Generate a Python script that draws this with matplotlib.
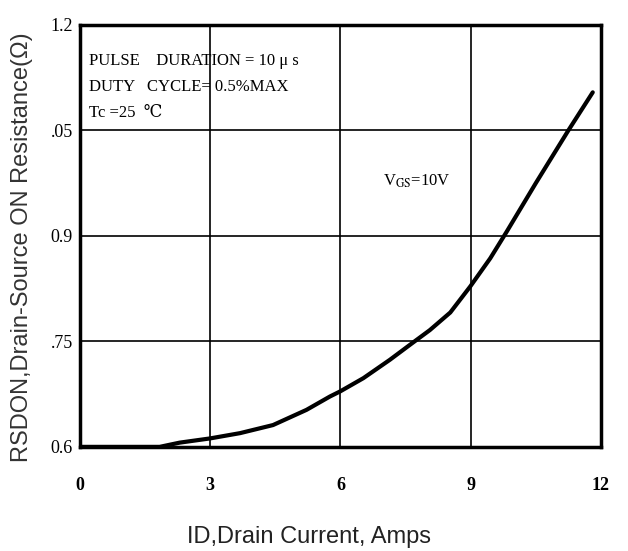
import matplotlib
matplotlib.use("Agg")
import matplotlib.pyplot as plt

# ID (A) vs RDS(on) (ohm)
id_amps = [0, 1, 1.84, 2.3, 3.0, 3.69, 4.45, 5.22, 5.76, 6.0, 6.53, 7.14, 7.6,
           8.06, 8.53, 8.99, 9.45, 9.83, 10.5, 11.25, 11.81]
rds_on = [0.6, 0.6, 0.6, 0.606, 0.612, 0.6195, 0.631, 0.6526, 0.6716, 0.679,
          0.6977, 0.7238, 0.745, 0.766, 0.791, 0.828, 0.868, 0.906, 0.975, 1.05, 1.104]

xticks = [0, 3, 6, 9, 12]
xticklabels = ["0", "3", "6", "9", "12"]
yticks = [0.6, 0.75, 0.9, 1.05, 1.2]
yticklabels = ["0.6", ".75", "0.9", ".05", "1.2"]

notes = ["PULSE    DURATION = 10 \u03bc s", "DUTY   CYCLE= 0.5%MAX", "Tc =25  \u2103"]

plt.rcParams["mathtext.fontset"] = "stix"

fig = plt.figure(figsize=(6.28, 5.51), dpi=100)
ax = fig.add_axes([0.127, 0.189, 0.83, 0.766])

ax.plot(id_amps, rds_on, color="black", lw=3, solid_joinstyle="round",
        solid_capstyle="round")

ax.set_xlim(0, 12)
ax.set_ylim(0.6, 1.2)
ax.set_xticks(xticks)
ax.set_xticklabels(xticklabels, family="Liberation Serif", fontsize=13, fontweight="bold")
ax.set_yticks(yticks)
ax.set_yticklabels(yticklabels, family="Liberation Serif", fontsize=13)
ax.tick_params(axis="x", length=0, pad=22)
ax.tick_params(axis="y", length=0, pad=5)
ax.grid(True, color="black", lw=1.2)

for s in ax.spines.values():
    s.set_linewidth(2.5)

fig.text(0.492, 0.025, "ID,Drain Current, Amps", family="Liberation Sans", fontsize=17,
         color="#222222", ha="center", va="center")
fig.text(0.035, 0.552, "RSDON,Drain-Source ON Resistance(\u03a9)", rotation=90,
         family="Liberation Sans", fontsize=17, color="#333333",
         ha="center", va="center")

for i, line in enumerate(notes):
    ax.text(0.018, 0.915 - i * 0.062, line, transform=ax.transAxes,
            family=["Liberation Serif", "DejaVu Serif"], fontsize=12, va="center")

ax.text(6.98, 0.977, r"V$_{\mathrm{GS}}$=10V", family="Liberation Serif", fontsize=12,
        va="center")

fig.savefig("out.png", dpi=100)
